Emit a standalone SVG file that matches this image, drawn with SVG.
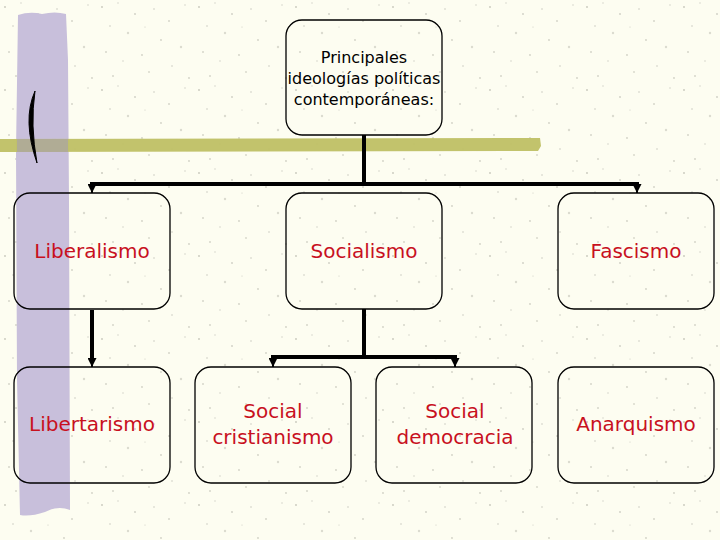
<svg xmlns="http://www.w3.org/2000/svg" width="720" height="540" viewBox="0 0 720 540">
  <defs>
    <pattern id="speck" width="97" height="83" patternUnits="userSpaceOnUse">
      <rect width="97" height="83" fill="#fdfdf1"/>
      <g fill="#9a9a90">
        <circle cx="5" cy="7" r="0.9" opacity="0.55"/>
        <circle cx="21" cy="3" r="0.7" opacity="0.45"/>
        <circle cx="38" cy="14" r="1.1" opacity="0.4"/>
        <circle cx="13" cy="26" r="0.8" opacity="0.5"/>
        <circle cx="31" cy="33" r="1.2" opacity="0.35"/>
        <circle cx="57" cy="9" r="0.8" opacity="0.5"/>
        <circle cx="72" cy="21" r="1" opacity="0.4"/>
        <circle cx="88" cy="5" r="0.7" opacity="0.5"/>
        <circle cx="64" cy="40" r="0.9" opacity="0.45"/>
        <circle cx="84" cy="47" r="1.2" opacity="0.35"/>
        <circle cx="9" cy="52" r="1" opacity="0.4"/>
        <circle cx="26" cy="61" r="0.7" opacity="0.5"/>
        <circle cx="45" cy="55" r="0.9" opacity="0.45"/>
        <circle cx="52" cy="72" r="1.1" opacity="0.35"/>
        <circle cx="75" cy="66" r="0.8" opacity="0.5"/>
        <circle cx="92" cy="78" r="0.9" opacity="0.45"/>
        <circle cx="16" cy="76" r="1" opacity="0.4"/>
        <circle cx="48" cy="27" r="0.6" opacity="0.5"/>
      </g>
    </pattern>
    <marker id="arr" viewBox="0 0 10 10" refX="10" refY="5" markerWidth="9" markerHeight="9" markerUnits="userSpaceOnUse" orient="auto">
      <path d="M0,0 L10,5 L0,10 Z" fill="#000"/>
    </marker>
  </defs>
  <style>
    .box { fill: none; stroke: #000; stroke-width: 1.3; }
    .lbl { font-family: "DejaVu Sans", "Liberation Sans", sans-serif; font-size: 20px; fill: #c8101e; text-anchor: middle; }
    .title { font-family: "DejaVu Sans", "Liberation Sans", sans-serif; font-size: 16px; fill: #000; text-anchor: middle; }
    .conn { fill: none; stroke: #000; stroke-width: 4; }
    .tip { fill: none; stroke: #000; stroke-width: 2; }
  </style>
  <rect width="720" height="540" fill="url(#speck)"/>
  <!-- decorations -->
  <path d="M18,15 Q30,11 42,14 Q55,11 66,14 L68,60 L69,200 L70,510 Q58,505 45,512 Q30,517 20,515 L17,380 L16,150 Z" fill="#c8bfdb"/>
  <path d="M0,139 L540,138 L541,146 L538,151 L0,152 Z" fill="#bfc064" opacity="0.95"/>
  <path d="M17,139 L68,139 L68,152 L17,152 Z" fill="#aca6a0" opacity="0.8"/>
  <path d="M35,91 Q22,120 37,163 Q30,125 35,91 Z" fill="#000" stroke="#000" stroke-width="1"/>

  <g id="connectors">
    <path class="conn" d="M364,135 V184"/>
    <path class="conn" d="M90,184 H639"/>
    <path class="tip" d="M92,184 V193" marker-end="url(#arr)"/>
    <path class="tip" d="M637,184 V193" marker-end="url(#arr)"/>
    <path class="conn" d="M92,310 V360"/>
    <path class="tip" d="M92,358 V367" marker-end="url(#arr)"/>
    <path class="conn" d="M364,309 V357"/>
    <path class="conn" d="M271,357 H457"/>
    <path class="tip" d="M273,357 V367" marker-end="url(#arr)"/>
    <path class="tip" d="M455,357 V367" marker-end="url(#arr)"/>
  </g>

  <g id="n-top">
    <rect class="box" x="286" y="20" width="156" height="115" rx="16"/>
    <text class="title" x="364" y="63">Principales</text>
    <text class="title" x="364" y="84">ideologías políticas</text>
    <text class="title" x="364" y="105">contemporáneas:</text>
  </g>
  <g id="n-liberalismo">
    <rect class="box" x="14" y="193" width="156" height="116" rx="16"/>
    <text class="lbl" x="92" y="258">Liberalismo</text>
  </g>
  <g id="n-socialismo">
    <rect class="box" x="286" y="193" width="156" height="116" rx="16"/>
    <text class="lbl" x="364" y="258">Socialismo</text>
  </g>
  <g id="n-fascismo">
    <rect class="box" x="558" y="193" width="156" height="116" rx="16"/>
    <text class="lbl" x="636" y="258">Fascismo</text>
  </g>
  <g id="n-libertarismo">
    <rect class="box" x="14" y="367" width="156" height="116" rx="16"/>
    <text class="lbl" x="92" y="431">Libertarismo</text>
  </g>
  <g id="n-socialcristianismo">
    <rect class="box" x="195" y="367" width="156" height="116" rx="16"/>
    <text class="lbl" x="273" y="418">Social</text>
    <text class="lbl" x="273" y="444">cristianismo</text>
  </g>
  <g id="n-socialdemocracia">
    <rect class="box" x="376" y="367" width="156" height="116" rx="16"/>
    <text class="lbl" x="455" y="418">Social</text>
    <text class="lbl" x="455" y="444">democracia</text>
  </g>
  <g id="n-anarquismo">
    <rect class="box" x="558" y="367" width="156" height="116" rx="16"/>
    <text class="lbl" x="636" y="431">Anarquismo</text>
  </g>
</svg>
